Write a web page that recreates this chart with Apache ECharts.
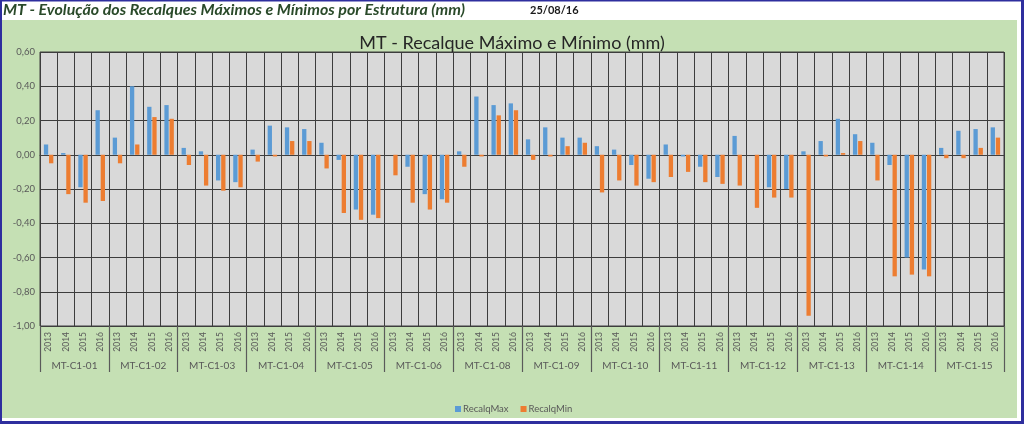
<!DOCTYPE html>
<html>
<head>
<meta charset="utf-8">
<script src="https://cdn.jsdelivr.net/npm/echarts@6/dist/echarts.min.js"></script>
<style>
html,body{margin:0;padding:0;background:#fff;}
#c{width:1024px;height:424px;}
</style>
</head>
<body>
<div id="c"></div>
<script>
var groups = ['MT-C1-01','MT-C1-02','MT-C1-03','MT-C1-04','MT-C1-05','MT-C1-06','MT-C1-08','MT-C1-09','MT-C1-10','MT-C1-11','MT-C1-12','MT-C1-13','MT-C1-14','MT-C1-15'];
var years = ['2013','2014','2015','2016'];
var recalqMax = [
  0.06, 0.01, -0.19, 0.26,
  0.10, 0.40, 0.28, 0.29,
  0.04, 0.02, -0.15, -0.16,
  0.03, 0.17, 0.16, 0.15,
  0.07, -0.03, -0.32, -0.35,
  0.00, -0.07, -0.23, -0.26,
  0.02, 0.34, 0.29, 0.30,
  0.09, 0.16, 0.10, 0.10,
  0.05, 0.03, -0.06, -0.14,
  0.06, -0.01, -0.07, -0.13,
  0.11, 0.00, -0.19, -0.20,
  0.02, 0.08, 0.21, 0.12,
  0.07, -0.06, -0.60, -0.67,
  0.04, 0.14, 0.15, 0.16
];
var recalqMin = [
  -0.05, -0.23, -0.28, -0.27,
  -0.05, 0.06, 0.22, 0.21,
  -0.06, -0.18, -0.21, -0.19,
  -0.04, -0.01, 0.08, 0.08,
  -0.08, -0.34, -0.38, -0.37,
  -0.12, -0.28, -0.32, -0.28,
  -0.07, -0.01, 0.23, 0.26,
  -0.03, -0.01, 0.05, 0.07,
  -0.22, -0.15, -0.18, -0.16,
  -0.13, -0.10, -0.16, -0.17,
  -0.18, -0.31, -0.25, -0.25,
  -0.94, -0.01, 0.01, 0.08,
  -0.15, -0.71, -0.70, -0.71,
  -0.02, -0.02, 0.04, 0.10
];
var yearCats = [];
groups.forEach(function(g){ years.forEach(function(y){ yearCats.push(y); }); });

var chart = echarts.init(document.getElementById('c'), null, {renderer:'canvas'});
var labelColor = '#595959';
var font = 'Lato, "Open Sans", sans-serif';
chart.setOption({
  animation:false,
  backgroundColor:'#ffffff',
  graphic:[
    {type:'rect', z:-10, shape:{x:2,y:20,width:1015,height:398}, style:{fill:'#c5e0b4'}},
    {type:'rect', z:-5, shape:{x:0,y:0,width:1024,height:1.5}, style:{fill:'#2e2e9e'}},
    {type:'rect', z:-5, shape:{x:0,y:0,width:2,height:424}, style:{fill:'#2e2e9e'}},
    {type:'rect', z:-5, shape:{x:1021,y:0,width:3,height:424}, style:{fill:'#2e2e9e'}},
    {type:'rect', z:-5, shape:{x:0,y:421,width:1024,height:3}, style:{fill:'#2e2e9e'}},
    {type:'text', left:3, top:2, style:{text:'MT - Evolução dos Recalques Máximos e Mínimos por Estrutura (mm)', fill:'#2a4a2a', font:'italic bold 16px Lato, sans-serif'}},
    {type:'text', left:530, top:5, style:{text:'25/08/16', fill:'#1a1a1a', font:'bold 11px Lato, sans-serif'}}
  ],
  title:{
    text:'MT - Recalque Máximo e Mínimo (mm)',
    left:'center', top:29,
    textStyle:{fontFamily:font, fontSize:18, fontWeight:'normal', color:'#262626'}
  },
  legend:{
    left:450, top:399,
    itemWidth:6, itemHeight:6, itemGap:12,
    icon:'rect',
    textStyle:{fontFamily:font, fontSize:9.5, color:labelColor, padding:[0,0,0,-3]},
    data:['RecalqMax','RecalqMin']
  },
  grid:{left:40, right:20, top:52, bottom:98, show:true, backgroundColor:'#d9d9d9', borderColor:'#404040', borderWidth:1},
  xAxis:[
    {
      type:'category', data:yearCats, position:'bottom',
      axisLine:{show:true, lineStyle:{color:'#404040'}},
      axisTick:{show:false},
      axisLabel:{interval:0, rotate:90, margin:6, fontFamily:font, fontSize:8.5, color:labelColor},
      splitLine:{show:true, interval:0, lineStyle:{color:'#3d3d3d', width:1}}
    },
    {
      type:'category', data:groups, position:'bottom',
      axisLine:{show:false},
      axisTick:{show:true, length:46, interval:0, lineStyle:{color:'#5a5a5a', width:1.2}},
      axisLabel:{interval:0, margin:35, fontFamily:font, fontSize:10, color:labelColor},
      splitLine:{show:false}
    }
  ],
  yAxis:{
    type:'value', min:-1, max:0.6, interval:0.2,
    axisLine:{show:false}, axisTick:{show:false},
    axisLabel:{fontFamily:font, fontSize:9.5, color:labelColor, margin:5,
      formatter:function(v){ return (Math.round(v*100)/100).toFixed(2).replace('.',','); }},
    splitLine:{show:true, lineStyle:{color:'#3d3d3d', width:1}}
  },
  series:[
    {name:'RecalqMax', type:'bar', data:recalqMax, barWidth:4.3, barGap:'20%', itemStyle:{color:'#5b9bd5'}},
    {name:'RecalqMin', type:'bar', data:recalqMin, barWidth:4.3, barGap:'20%', itemStyle:{color:'#ed7d31'}}
  ]
});
</script>
</body>
</html>
